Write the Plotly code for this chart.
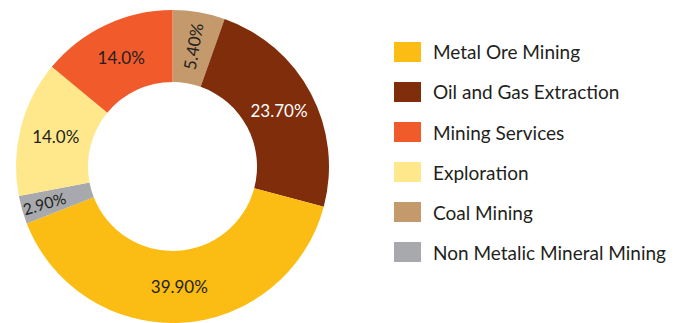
import plotly.graph_objects as go

# Slices, clockwise from 12 o'clock
labels = ["Coal Mining", "Oil and Gas Extraction", "Metal Ore Mining",
          "Non Metalic Mineral Mining", "Exploration", "Mining Services"]
values = [5.40, 23.70, 39.90, 2.90, 14.0, 14.0]
slice_text = ["5.40%", "23.70%", "39.90%", "2.90%", "14.0%", "14.0%"]
colors = {
    "Metal Ore Mining": "#FBBC13",
    "Oil and Gas Extraction": "#7F2D0A",
    "Mining Services": "#F15A2B",
    "Exploration": "#FFE88C",
    "Coal Mining": "#C49A6C",
    "Non Metalic Mineral Mining": "#A7A9AC",
}
text_colors = {"Oil and Gas Extraction": "#FFFFFF"}
legend_order = ["Metal Ore Mining", "Oil and Gas Extraction", "Mining Services",
                "Exploration", "Coal Mining", "Non Metalic Mineral Mining"]

W, H = 683, 323
FONT = "Lato, 'Open Sans', sans-serif"
DARK = "#231F20"

fig = go.Figure()
fig.add_trace(go.Pie(
    labels=labels,
    values=values,
    text=slice_text,
    textinfo="text",
    textposition="inside",
    insidetextorientation="auto",
    sort=False,
    direction="clockwise",
    rotation=0,
    hole=0.54,
    marker=dict(colors=[colors[l] for l in labels], line=dict(width=0)),
    textfont=dict(family=FONT, size=17,
                  color=[text_colors.get(l, DARK) for l in labels]),
    domain=dict(x=[16 / W, 329 / W], y=[0, 1 - 10 / H]),
    showlegend=False,
    hoverinfo="label+text",
))

# Manual legend
shapes = []
annotations = []
top0, step = 42, 40
for i, name in enumerate(legend_order):
    y0 = top0 + i * step
    shapes.append(dict(
        type="rect", xref="paper", yref="paper",
        x0=394 / W, x1=421 / W, y0=1 - (y0 + 20) / H, y1=1 - y0 / H,
        fillcolor=colors[name], line=dict(width=0),
    ))
    annotations.append(dict(
        xref="paper", yref="paper", x=431 / W, y=1 - (y0 + 10) / H,
        xanchor="left", yanchor="middle", text=name, showarrow=False,
        font=dict(family=FONT, size=19, color=DARK),
    ))

fig.update_layout(
    width=W, height=H,
    margin=dict(l=0, r=0, t=0, b=0),
    paper_bgcolor="white", plot_bgcolor="white",
    shapes=shapes, annotations=annotations,
)
fig.write_html("out.html")
